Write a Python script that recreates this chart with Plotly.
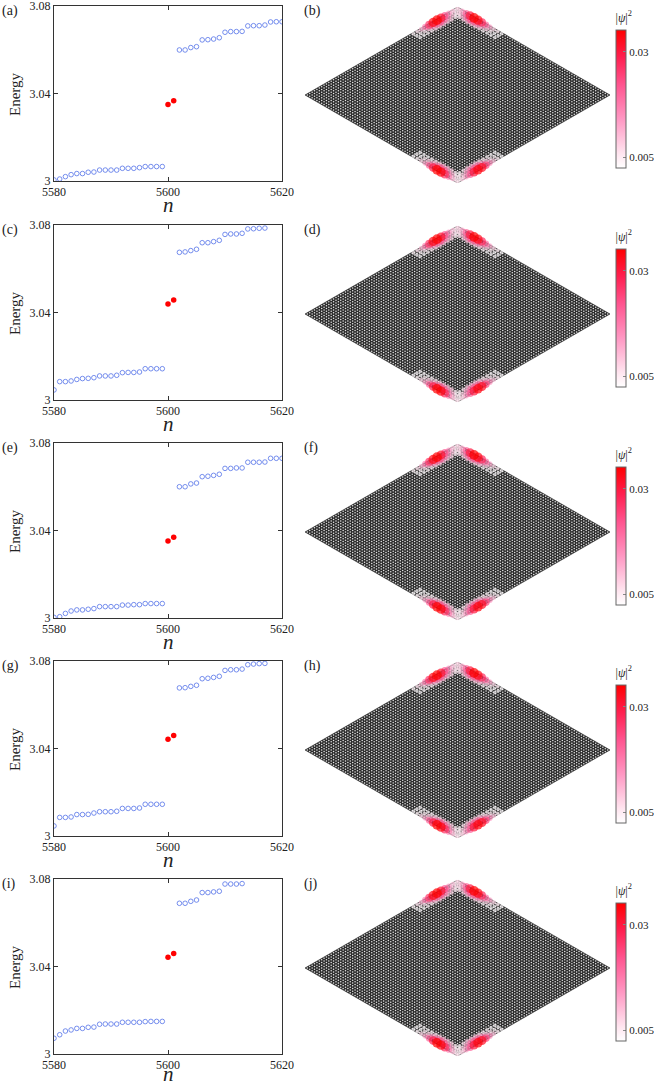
import numpy as np
import plotly.graph_objects as go

W, H = 654, 1086
FONT = "Liberation Serif"

# ---------------- spectrum data (energy vs state index n) ----------------
N_LOWER_START = 5580
N_EDGE = [5600, 5601]
N_UPPER_START = 5602

a_lower = [3.0005, 3.0009, 3.0020, 3.0029, 3.0034, 3.0034, 3.0040, 3.0041, 3.0050, 3.0050,
           3.0050, 3.0050, 3.0058, 3.0058, 3.0058, 3.0061, 3.0066, 3.0066, 3.0066, 3.0066]
a_edge = [3.0350, 3.0367]
a_upper = [3.0599, 3.0599, 3.0610, 3.0614, 3.0645, 3.0646, 3.0649, 3.0655, 3.0680, 3.0683,
           3.0683, 3.0684, 3.0709, 3.0710, 3.0710, 3.0713, 3.0727, 3.0728, 3.0728]

c_lower = [3.0046, 3.0084, 3.0084, 3.0087, 3.0094, 3.0098, 3.0099, 3.0102, 3.0110, 3.0110,
           3.0110, 3.0113, 3.0125, 3.0126, 3.0126, 3.0128, 3.0143, 3.0143, 3.0143, 3.0143]
c_edge = [3.0439, 3.0457]
c_upper = [3.0675, 3.0677, 3.0683, 3.0689, 3.0719, 3.0719, 3.0724, 3.0730, 3.0757, 3.0759,
           3.0759, 3.0762, 3.0782, 3.0783, 3.0785, 3.0786]

e_lower = [3.0003, 3.0006, 3.0021, 3.0032, 3.0037, 3.0037, 3.0040, 3.0043, 3.0052, 3.0052,
           3.0052, 3.0052, 3.0059, 3.0059, 3.0061, 3.0061, 3.0066, 3.0066, 3.0066, 3.0066]
e_edge = [3.0352, 3.0369]
e_upper = [3.0600, 3.0600, 3.0613, 3.0617, 3.0646, 3.0648, 3.0652, 3.0657, 3.0684, 3.0684,
           3.0686, 3.0686, 3.0712, 3.0712, 3.0712, 3.0713, 3.0730, 3.0730, 3.0730]

g_lower = [3.0046, 3.0085, 3.0085, 3.0087, 3.0098, 3.0098, 3.0099, 3.0105, 3.0111, 3.0111,
           3.0111, 3.0113, 3.0126, 3.0126, 3.0126, 3.0128, 3.0145, 3.0145, 3.0145, 3.0145]
g_edge = [3.0442, 3.0459]
g_upper = [3.0677, 3.0678, 3.0684, 3.0689, 3.0719, 3.0721, 3.0725, 3.0730, 3.0757, 3.0760,
           3.0760, 3.0763, 3.0783, 3.0786, 3.0788, 3.0789]

i_lower = [3.0072, 3.0088, 3.0105, 3.0110, 3.0117, 3.0117, 3.0122, 3.0123, 3.0136, 3.0137,
           3.0137, 3.0137, 3.0145, 3.0145, 3.0145, 3.0145, 3.0148, 3.0149, 3.0149, 3.0149]
i_edge = [3.0442, 3.0459]
i_upper = [3.0689, 3.0689, 3.0698, 3.0704, 3.0738, 3.0738, 3.0741, 3.0744, 3.0777, 3.0777,
           3.0777, 3.0779]

X_TICKS = [5580, 5600, 5620]
Y_TICKS = [3.0, 3.04, 3.08]
Y_TICK_TEXT = ["3", "3.04", "3.08"]

LEFT_LABELS = ["(a)", "(c)", "(e)", "(g)", "(i)"]
RIGHT_LABELS = ["(b)", "(d)", "(f)", "(h)", "(j)"]

# ---------------- lattice / edge-state data ----------------
N_CELLS = 64            # cells along each rhombus side
EDGE_STEP = 1.65        # spacing of edge sites along an edge (cell units)
ROW_STEP = 1.4          # spacing of site rows into the bulk (cell units)
# |psi|^2 along the edges, moving away from a corner (rows: edge row, 2nd row, 3rd row)
TOP_LEFT = [
    [0.006, 0.009, 0.014, 0.022, 0.031, 0.035, 0.033, 0.026, 0.017, 0.010, 0.006, 0.004],
    [0.004, 0.006, 0.009, 0.014, 0.019, 0.022, 0.020, 0.015, 0.010, 0.006, 0.004, 0.003],
    [0.003, 0.004, 0.005, 0.007, 0.009, 0.010, 0.009, 0.007, 0.005, 0.004, 0.003, 0.003],
]
TOP_RIGHT = [
    [0.007, 0.012, 0.020, 0.030, 0.035, 0.033, 0.027, 0.019, 0.012, 0.007, 0.005, 0.003],
    [0.004, 0.007, 0.012, 0.018, 0.022, 0.021, 0.017, 0.012, 0.008, 0.005, 0.003, 0.003],
    [0.003, 0.004, 0.006, 0.008, 0.010, 0.010, 0.008, 0.006, 0.004, 0.003, 0.003, 0.003],
]
BOTTOM_LEFT = [
    [0.006, 0.010, 0.017, 0.027, 0.034, 0.035, 0.029, 0.020, 0.012, 0.007, 0.004, 0.003],
    [0.004, 0.006, 0.011, 0.016, 0.021, 0.022, 0.018, 0.012, 0.008, 0.005, 0.003, 0.003],
    [0.003, 0.004, 0.005, 0.008, 0.010, 0.010, 0.008, 0.006, 0.004, 0.003, 0.003, 0.003],
]
BOTTOM_RIGHT = [
    [0.005, 0.008, 0.013, 0.021, 0.030, 0.034, 0.032, 0.024, 0.015, 0.009, 0.005, 0.003],
    [0.004, 0.005, 0.008, 0.013, 0.019, 0.021, 0.020, 0.015, 0.009, 0.006, 0.004, 0.003],
    [0.003, 0.003, 0.004, 0.006, 0.009, 0.010, 0.009, 0.007, 0.005, 0.004, 0.003, 0.003],
]
CMIN, CMAX = 0.0025, 0.0352
CB_TICKS = [0.005, 0.03]
CB_TEXT = ["0.005", "0.03"]
COLORSCALE = [[0.0, "#ffffff"], [0.1, "#ffe6f0"], [0.35, "#ff99c4"],
              [0.6, "#ff5590"], [0.8, "#ff2050"], [1.0, "#ff0000"]]

panels = [
    (a_lower, a_edge, a_upper),
    (c_lower, c_edge, c_upper),
    (e_lower, e_edge, e_upper),
    (g_lower, g_edge, g_upper),
    (i_lower, i_edge, i_upper),
]

ROW_TOPS = [6, 225, 443, 661, 879]
PLOT_H = 175
LX0, LX1 = 54, 282
RX0, RX1 = 305, 610

C30, S30 = np.cos(np.pi / 6), np.sin(np.pi / 6)


def to_xy(i, j):
    i = np.asarray(i, float)
    j = np.asarray(j, float)
    return (i + j) * C30, (i - j) * S30


def ydom(top, bottom):
    return [1 - bottom / H, 1 - top / H]


fig = go.Figure()
layout = dict(
    width=W, height=H, margin=dict(l=0, r=0, t=0, b=0, autoexpand=False),
    paper_bgcolor="white", plot_bgcolor="white", showlegend=False,
    font=dict(family=FONT, size=12, color="#222"),
)
annotations = []

# lattice holes (same lattice for all panels)
ii, jj = np.meshgrid(np.arange(N_CELLS) + 0.5, np.arange(N_CELLS) + 0.5)
hx, hy = to_xy(ii.ravel(), jj.ravel())
cx, cy = to_xy([0, N_CELLS, N_CELLS, 0, 0], [0, 0, N_CELLS, N_CELLS, 0])

# edge sites
ex, ey, ev = [], [], []
for r in range(3):
    for d in range(12):
        dd = (d + 0.5) * EDGE_STEP
        rr = (r + 0.35) * ROW_STEP
        # top corner (i=N, j=0): left edge j=0, right edge i=N
        x, y = to_xy(N_CELLS - dd, rr); ex.append(x); ey.append(y); ev.append(TOP_LEFT[r][d])
        x, y = to_xy(N_CELLS - rr, dd); ex.append(x); ey.append(y); ev.append(TOP_RIGHT[r][d])
        # bottom corner (i=0, j=N): left edge i=0, right edge j=N
        x, y = to_xy(rr, N_CELLS - dd); ex.append(x); ey.append(y); ev.append(BOTTOM_LEFT[r][d])
        x, y = to_xy(dd, N_CELLS - rr); ex.append(x); ey.append(y); ev.append(BOTTOM_RIGHT[r][d])
order = np.argsort(ev)
ex = np.array(ex, float)[order]
ey = np.array(ey, float)[order]
ev = np.array(ev, float)[order]
esize = 3.0 + 190 * ev

RW = np.sqrt(3) * N_CELLS

for k, (low, edge, up) in enumerate(panels):
    top = ROW_TOPS[k]
    xa = f"x{k + 1}" if k else "x"
    ya = f"y{k + 1}" if k else "y"
    axn = "" if k == 0 else str(k + 1)
    # ---------- spectrum ----------
    fig.add_trace(go.Scatter(
        x=list(range(N_LOWER_START, N_LOWER_START + len(low))), y=low, mode="markers",
        marker=dict(symbol="circle-open", size=4.6, color="#5472e8", line=dict(width=0.8)),
        xaxis=xa, yaxis=ya))
    fig.add_trace(go.Scatter(
        x=list(range(N_UPPER_START, N_UPPER_START + len(up))), y=up, mode="markers",
        marker=dict(symbol="circle-open", size=4.6, color="#5472e8", line=dict(width=0.8)),
        xaxis=xa, yaxis=ya))
    fig.add_trace(go.Scatter(
        x=N_EDGE, y=edge, mode="markers",
        marker=dict(symbol="circle", size=5.5, color="#ff0000"),
        xaxis=xa, yaxis=ya))
    axstyle = dict(showline=True, mirror="ticks", linecolor="#333", linewidth=1,
                   ticks="inside", ticklen=4, tickcolor="#333", showgrid=False,
                   zeroline=False, ticklabeloverflow="allow",
                   tickfont=dict(family=FONT, size=12, color="#222"))
    layout["xaxis" + axn] = dict(domain=[LX0 / W, LX1 / W], range=[5580, 5620],
                                 tickvals=X_TICKS, anchor=ya, **axstyle)
    layout["yaxis" + axn] = dict(domain=ydom(top, top + PLOT_H), range=[3.0, 3.08],
                                 tickvals=Y_TICKS, ticktext=Y_TICK_TEXT, anchor=xa, **axstyle)

    # ---------- lattice ----------
    kk = k + 6
    xb = f"x{kk}"
    yb = f"y{kk}"
    fig.add_trace(go.Scatter(x=cx, y=cy, mode="lines", fill="toself",
                             fillcolor="#2c2c2c", line=dict(color="#2c2c2c", width=0.6),
                             xaxis=xb, yaxis=yb, hoverinfo="skip"))
    fig.add_trace(go.Scatter(x=hx, y=hy, mode="markers",
                             marker=dict(size=1.5, color="#e8e8e8", line=dict(width=0)),
                             xaxis=xb, yaxis=yb, hoverinfo="skip"))
    fig.add_trace(go.Scatter(
        x=ex, y=ey, mode="markers", cliponaxis=False, xaxis=xb, yaxis=yb,
        marker=dict(size=esize, color=ev, colorscale=COLORSCALE, cmin=CMIN, cmax=CMAX,
                    line=dict(width=0), showscale=True,
                    colorbar=dict(
                        x=616 / W, xanchor="left", xpad=0,
                        y=1 - (top + 83) / H, yanchor="middle", ypad=0,
                        len=158, lenmode="pixels", thickness=10,
                        outlinecolor="#666", outlinewidth=1,
                        tickvals=CB_TICKS, ticktext=CB_TEXT, ticks="inside",
                        ticklen=3, tickcolor="#888", ticklabeloverflow="allow",
                        tickfont=dict(family=FONT, size=11, color="#222"),
                        title=dict(text="|<i>ψ</i>|<sup>2</sup>", side="top",
                                   font=dict(family=FONT, size=12, color="#222"))))))
    layout["xaxis" + str(kk)] = dict(domain=[RX0 / W, RX1 / W], range=[0, RW],
                                     visible=False, anchor=yb, fixedrange=True)
    layout["yaxis" + str(kk)] = dict(domain=ydom(top + 1, top + 177),
                                     range=[-N_CELLS / 2, N_CELLS / 2],
                                     visible=False, anchor=xb, fixedrange=True)

    # ---------- labels ----------
    annotations.append(dict(text=LEFT_LABELS[k], x=0, y=1 - (top + 5) / H, xref="paper",
                            yref="paper", xanchor="left", yanchor="middle", showarrow=False,
                            font=dict(family=FONT, size=14, color="#222")))
    annotations.append(dict(text=RIGHT_LABELS[k], x=302 / W, y=1 - (top + 5) / H,
                            xref="paper", yref="paper", xanchor="left", yanchor="middle",
                            showarrow=False, font=dict(family=FONT, size=14, color="#222")))
    annotations.append(dict(text="Energy", x=15 / W, y=1 - (top + 88) / H, xref="paper",
                            yref="paper", xanchor="center", yanchor="middle", textangle=-90,
                            showarrow=False, font=dict(family=FONT, size=15, color="#222")))
    n_y = min(top + 199, H - 12)
    annotations.append(dict(text="<i>n</i>", x=(LX0 + LX1) / 2 / W, y=1 - n_y / H,
                            xref="paper", yref="paper", xanchor="center", yanchor="middle",
                            showarrow=False, font=dict(family=FONT, size=21, color="#222")))

layout["annotations"] = annotations
fig.update_layout(**layout)
fig.write_html("out.html", config={"displayModeBar": False},
               post_script="document.body.style.margin='0';document.body.style.padding='0';")
